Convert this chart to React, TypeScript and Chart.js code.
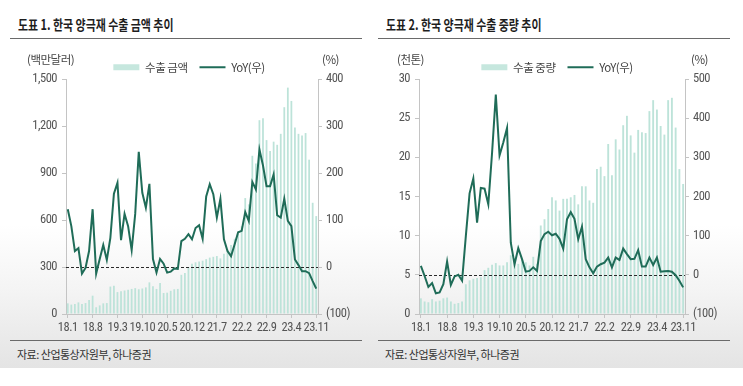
import React, { useEffect, useRef } from 'react';
import { Chart, registerables } from 'chart.js';

Chart.register(...registerables);

// ---------- data ----------
const months = [
  '18.1', '18.2', '18.3', '18.4', '18.5', '18.6', '18.7', '18.8', '18.9', '18.10', '18.11', '18.12',
  '19.1', '19.2', '19.3', '19.4', '19.5', '19.6', '19.7', '19.8', '19.9', '19.10', '19.11', '19.12',
  '20.1', '20.2', '20.3', '20.4', '20.5', '20.6', '20.7', '20.8', '20.9', '20.10', '20.11', '20.12',
  '21.1', '21.2', '21.3', '21.4', '21.5', '21.6', '21.7', '21.8', '21.9', '21.10', '21.11', '21.12',
  '22.1', '22.2', '22.3', '22.4', '22.5', '22.6', '22.7', '22.8', '22.9', '22.10', '22.11', '22.12',
  '23.1', '23.2', '23.3', '23.4', '23.5', '23.6', '23.7', '23.8', '23.9', '23.10', '23.11',
];

const xTickLabels = ['18.1', '18.8', '19.3', '19.10', '20.5', '20.12', '21.7', '22.2', '22.9', '23.4', '23.11'];

// 수출 금액 (백만달러)
const exportAmount = [
  68, 60, 64, 74, 64, 70, 90, 117, 43, 55, 68, 70,
  175, 180, 140, 145, 150, 155, 160, 165, 158, 163, 170, 202,
  177, 160, 198, 134, 136, 148, 158, 160, 250, 262, 300, 320,
  330, 335, 340, 350, 360, 365, 370, 355, 385, 410, 440, 480,
  510, 560, 740, 700, 1010, 960, 1237, 1250, 1110, 1040, 1100, 1080,
  1150, 1320, 1445, 1360, 1190, 1150, 1140, 1155, 985, 710, 625,
];

// 수출 금액 YoY (%)
const exportAmountYoY = [
  123, 87, 34, 40, -14, -2, 34, 123, -14, 17, 47, 15,
  62, 156, 179, 57, 113, 87, 36, 113, 245, 158, 126, 177,
  17, -12, 17, 7, -12, -10, -3, -4, 55, 60, 70, 59,
  83, 89, 60, 150, 176, 155, 105, 145, 59, 34, 23, 48,
  74, 77, 117, 98, 181, 165, 250, 216, 172, 172, 197, 110,
  105, 145, 98, 87, 16, 4, -9, -9, -13, -30, -46,
];

// 수출 중량 (천톤)
const exportVolume = [
  2.0, 1.6, 1.5, 1.9, 1.6, 1.7, 2.0, 2.1, 1.6, 1.3, 1.4, 1.6,
  3.8, 4.3, 4.5, 4.6, 4.7, 5.6, 5.9, 6.3, 6.5, 6.2, 6.2, 6.6,
  7.5, 7.1, 6.4, 6.9, 6.6, 6.2, 7.3, 6.4, 11.3, 12.1, 13.4, 14.9,
  14.5, 13.2, 14.7, 14.7, 14.9, 15.2, 14.0, 16.3, 16.3, 14.5, 14.2, 18.5,
  18.8, 17.6, 21.7, 17.7, 22.3, 21.0, 24.1, 25.3, 22.8, 20.6, 23.5, 23.2,
  23.1, 25.9, 27.3, 26.1, 24.0, 22.9, 27.3, 27.6, 23.8, 18.5, 16.6,
];

// 수출 중량 YoY (%)
const exportVolumeYoY = [
  23, -3, -31, -21, -47, -45, -24, 34, -26, -4, 0, -15,
  99, 208, 246, 133, 222, 220, 180, 311, 460, 305, 338, 375,
  82, 27, 68, 40, 8, 10, 19, 10, 86, 104, 110, 101,
  105, 92, 67, 142, 160, 143, 91, 123, 40, 19, 4, 21,
  27, 31, 44, 19, 44, 38, 67, 53, 40, 41, 63, 21,
  21, 44, 25, 44, 8, 9, 10, 8, -1, -15, -32,
];

const amountTicks = [0, 300, 600, 900, 1200, 1500];
const amountYoYTicks = [-100, 0, 100, 200, 300, 400];
const volumeTicks = [0, 5, 10, 15, 20, 25, 30];
const volumeYoYTicks = [-100, 0, 100, 200, 300, 400, 500];

// ---------- styles ----------
const BAR = '#bde3d9';
const LEGEND_BAR = '#c6e7de';
const LINE = '#1f6c58';
const AXIS = '#c4c4c4';
const TICK = '#555555';
const KR = '"Noto Sans CJK KR", "Noto Sans", sans-serif';
const NUM = '"Liberation Sans Narrow", "Roboto Condensed", "DejaVu Sans Condensed", Roboto, sans-serif';

type PanelProps = {
  left: number;
  width: number;
  chartLeft: number;
  chartRight: number;
  padLeft: number;
  barLabel: string;
  bars: number[];
  yoy: number[];
  leftTicks: number[];
  rightTicks: number[];
};

function fmtLeft(v: number) {
  return v.toLocaleString('en-US');
}
function fmtRight(v: number) {
  return v < 0 ? `(${Math.abs(v)})` : String(v);
}

function DualChart(p: PanelProps) {
  const ref = useRef<HTMLCanvasElement>(null);
  useEffect(() => {
    const canvas = ref.current;
    if (!canvas) return;
    const H = 300;
    const BOT = 274;
    const spacing = {
      id: 'spacing',
      beforeLayout(chart: any) {
        chart.ctx.letterSpacing = '-0.5px';
      },
      beforeDraw(chart: any) {
        chart.ctx.letterSpacing = '-0.5px';
      },
    };
    const zeroLine = {
      id: 'zeroLine',
      afterDatasetDraw(chart: any, args: any) {
        if (args.index !== 0) return;
        const { ctx, chartArea } = chart;
        const y = Math.round(chart.scales.y1.getPixelForValue(0)) + 0.5;
        ctx.save();
        ctx.setLineDash([3, 2]);
        ctx.strokeStyle = '#2a2a2a';
        ctx.lineWidth = 1;
        ctx.beginPath();
        ctx.moveTo(chartArea.left, y);
        ctx.lineTo(chartArea.right, y);
        ctx.stroke();
        ctx.restore();
      },
    };
    const lMin = p.leftTicks[0];
    const lMax = p.leftTicks[p.leftTicks.length - 1];
    const rMin = p.rightTicks[0];
    const rMax = p.rightTicks[p.rightTicks.length - 1];
    const chart = new Chart(canvas, {
      type: 'bar',
      data: {
        labels: months,
        datasets: [
          {
            type: 'bar',
            label: p.barLabel,
            data: p.bars,
            yAxisID: 'y',
            backgroundColor: BAR,
            barPercentage: 0.5,
            categoryPercentage: 1,
            order: 2,
          } as any,
          {
            type: 'line',
            label: 'YoY(우)',
            data: p.yoy,
            yAxisID: 'y1',
            borderColor: LINE,
            backgroundColor: LINE,
            borderWidth: 2,
            pointRadius: 0,
            tension: 0,
            order: 1,
          } as any,
        ],
      },
      options: {
        responsive: false,
        animation: false,
        events: [],
        layout: { padding: { top: 9.5, left: p.padLeft, right: 0, bottom: 0 } },
        plugins: {
          tooltip: { enabled: false },
          legend: {
            position: 'top',
            maxHeight: 29.5,
            labels: {
              usePointStyle: true,
              pointStyleWidth: 26,
              boxWidth: 26,
              boxHeight: 6,
              padding: 12,
              color: '#444',
              font: { family: KR, size: 11.5 },
              generateLabels: (chart: any) =>
                chart.data.datasets.map((ds: any, i: number) => {
                  const isLine = ds.type === 'line';
                  return {
                    text: ds.label,
                    datasetIndex: i,
                    fillStyle: isLine ? LINE : LEGEND_BAR,
                    strokeStyle: isLine ? LINE : LEGEND_BAR,
                    lineWidth: isLine ? 2 : 0,
                    pointStyle: isLine ? 'line' : 'rect',
                    fontColor: '#444',
                    hidden: false,
                  };
                }),
            },
          } as any,
        },
        scales: {
          x: {
            offset: true,
            grid: {
              offset: false,
              drawOnChartArea: false,
              drawTicks: true,
              tickLength: 4,
              color: (c: any) =>
                c.tick && xTickLabels.includes(months[c.index]) ? AXIS : 'rgba(0,0,0,0)',
            },
            border: { display: true, color: AXIS, width: 1 },
            ticks: {
              autoSkip: false,
              maxRotation: 0,
              minRotation: 0,
              padding: 2,
              color: TICK,
              font: { family: NUM, size: 12.5 },
              callback: (_v: any, i: number) => (xTickLabels.includes(months[i]) ? months[i] : ''),
            },
            afterFit: (s: any) => {
              s.height = H - BOT;
            },
          } as any,
          y: {
            position: 'left',
            min: lMin,
            max: lMax,
            afterBuildTicks: (s: any) => {
              s.ticks = p.leftTicks.map((v) => ({ value: v }));
            },
            grid: { drawOnChartArea: false, drawTicks: true, tickLength: 4, color: AXIS },
            border: { display: true, color: AXIS, width: 1 },
            ticks: {
              padding: 5,
              color: TICK,
              font: { family: NUM, size: 12.5 },
              callback: (v: any) => fmtLeft(Number(v)),
            },
            afterFit: (s: any) => {
              s.width = p.chartLeft - p.padLeft;
            },
          } as any,
          y1: {
            position: 'right',
            min: rMin,
            max: rMax,
            afterBuildTicks: (s: any) => {
              s.ticks = p.rightTicks.map((v) => ({ value: v }));
            },
            grid: { drawOnChartArea: false, drawTicks: true, tickLength: 4, color: AXIS },
            border: { display: true, color: AXIS, width: 1 },
            ticks: {
              padding: 4,
              color: TICK,
              font: { family: NUM, size: 12.5 },
              callback: (v: any) => fmtRight(Number(v)),
            },
            afterFit: (s: any) => {
              s.width = p.width - p.chartRight;
            },
          } as any,
        },
      },
      plugins: [spacing, zeroLine],
    });
    return () => chart.destroy();
  }, []);
  return (
    <canvas
      ref={ref}
      width={p.width}
      height={300}
      style={{ position: 'absolute', left: p.left, top: 40, width: p.width, height: 300 }}
    />
  );
}

const txt = (extra: React.CSSProperties): React.CSSProperties => ({
  position: 'absolute',
  whiteSpace: 'nowrap',
  fontFamily: KR,
  ...extra,
});

function Panel(props: {
  x0: number;
  title: string;
  unitLeft: string;
  unitLeftX: number;
  unitRightX: number;
  chart: PanelProps;
}) {
  const { x0, title, unitLeft, unitLeftX, unitRightX, chart } = props;
  return (
    <>
      <div
        style={txt({
          left: x0 + 8,
          top: 15,
          fontSize: 14,
          lineHeight: '18px',
          fontWeight: 700,
          color: '#1e1e1e',
          transform: 'scaleX(0.78)',
          transformOrigin: 'left center',
        })}
      >
        {title}
      </div>
      <div style={{ position: 'absolute', left: x0, top: 37.5, width: 352, height: 1.3, background: '#6a6a6a' }} />
      <DualChart {...chart} />
      <div style={txt({ left: unitLeftX, top: 51, fontSize: 11.5, lineHeight: '16px', color: '#444', letterSpacing: '-0.5px' })}>
        {unitLeft}
      </div>
      <div style={txt({ left: unitRightX, top: 51, fontSize: 11.5, lineHeight: '16px', color: '#444', letterSpacing: '-0.5px' })}>
        (%)
      </div>
      <div style={{ position: 'absolute', left: x0, top: 339.5, width: 352, height: 1.3, background: '#6a6a6a' }} />
      <div
        style={txt({
          left: x0 + 7,
          top: 346,
          fontSize: 11,
          lineHeight: '16px',
          color: '#333',
          letterSpacing: '-0.5px',
        })}
      >
        자료: 산업통상자원부, 하나증권
      </div>
    </>
  );
}

export default function App() {
  return (
    <div
      style={{
        position: 'absolute',
        left: 0,
        top: 0,
        width: 743,
        height: 386,
        background: '#ffffff',
        overflow: 'hidden',
      }}
    >
      <div
        style={{
          position: 'absolute',
          left: 0,
          top: 225,
          width: 743,
          height: 143,
          background: 'linear-gradient(to bottom, #ffffff 0%, #f4f4f4 45%, #e4e4e4 100%)',
        }}
      />
      <Panel
        x0={10}
        title="도표 1. 한국 양극재 수출 금액 추이"
        unitLeft="(백만달러)"
        unitLeftX={27}
        unitRightX={322}
        chart={{
          left: 0,
          width: 371,
          chartLeft: 66,
          chartRight: 318,
          padLeft: 7,
          barLabel: '수출 금액',
          bars: exportAmount,
          yoy: exportAmountYoY,
          leftTicks: amountTicks,
          rightTicks: amountYoYTicks,
        }}
      />
      <Panel
        x0={378}
        title="도표 2. 한국 양극재 수출 중량 추이"
        unitLeft="(천톤)"
        unitLeftX={397}
        unitRightX={691}
        chart={{
          left: 371,
          width: 372,
          chartLeft: 48,
          chartRight: 314,
          padLeft: 0,
          barLabel: '수출 중량',
          bars: exportVolume,
          yoy: exportVolumeYoY,
          leftTicks: volumeTicks,
          rightTicks: volumeYoYTicks,
        }}
      />
    </div>
  );
}
